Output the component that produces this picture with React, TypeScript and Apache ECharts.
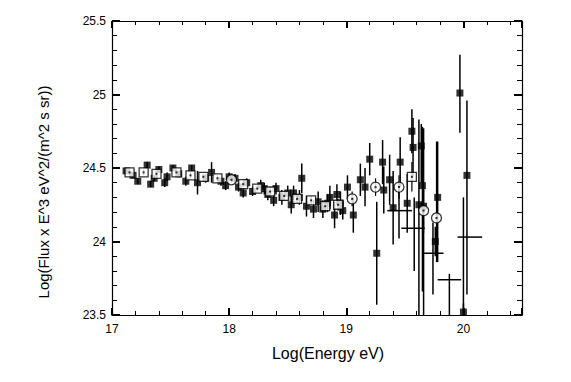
import React, { useEffect, useRef } from "react";
import * as echarts from "echarts";

// Filled squares with vertical error bars
const filledX = [17.12, 17.18, 17.22, 17.30, 17.33, 17.36, 17.40, 17.45, 17.47, 17.52, 17.57, 17.63, 17.68, 17.73, 17.80, 17.85, 17.93, 17.97, 18.00, 18.05, 18.08, 18.12, 18.15, 18.20, 18.27, 18.30, 18.33, 18.38, 18.40, 18.45, 18.50, 18.53, 18.55, 18.60, 18.62, 18.66, 18.72, 18.76, 18.80, 18.84, 18.86, 18.90, 18.92, 18.95, 18.97, 19.01, 19.06, 19.12, 19.16, 19.20, 19.26, 19.31, 19.32, 19.37, 19.40, 19.46, 19.52, 19.56, 19.57, 19.62, 19.64, 19.65, 19.66, 19.76, 19.78, 19.97, 20.00, 20.03];
const filledY = [24.48, 24.45, 24.41, 24.52, 24.39, 24.43, 24.49, 24.40, 24.44, 24.50, 24.46, 24.41, 24.50, 24.40, 24.43, 24.47, 24.41, 24.38, 24.44, 24.43, 24.37, 24.33, 24.40, 24.34, 24.38, 24.36, 24.32, 24.28, 24.36, 24.30, 24.33, 24.25, 24.33, 24.30, 24.43, 24.24, 24.22, 24.27, 24.22, 24.26, 24.30, 24.18, 24.32, 24.26, 24.21, 24.37, 24.18, 24.42, 24.37, 24.56, 23.92, 24.54, 24.35, 24.42, 24.23, 24.54, 24.26, 24.75, 24.64, 24.25, 24.65, 24.38, 24.24, 24.00, 24.30, 25.01, 23.52, 24.45];
const filledLo = [24.46, 24.43, 24.39, 24.50, 24.37, 24.41, 24.47, 24.37, 24.41, 24.48, 24.44, 24.38, 24.48, 24.32, 24.40, 24.40, 24.38, 24.35, 24.41, 24.40, 24.34, 24.30, 24.37, 24.31, 24.34, 24.32, 24.28, 24.24, 24.32, 24.25, 24.28, 24.19, 24.28, 24.25, 24.33, 24.17, 24.16, 24.20, 24.16, 24.20, 24.22, 24.09, 24.25, 24.18, 24.15, 24.29, 24.06, 24.31, 24.24, 24.45, 23.57, 24.39, 24.19, 24.25, 23.98, 24.37, 24.06, 24.60, 24.44, 23.45, 24.40, 23.66, 23.45, 23.90, 23.86, 24.74, 23.40, 23.64];
const filledHi = [24.50, 24.47, 24.43, 24.54, 24.41, 24.45, 24.51, 24.43, 24.47, 24.52, 24.48, 24.44, 24.52, 24.48, 24.46, 24.54, 24.44, 24.41, 24.47, 24.46, 24.40, 24.36, 24.43, 24.37, 24.42, 24.40, 24.36, 24.32, 24.40, 24.35, 24.38, 24.31, 24.38, 24.35, 24.53, 24.31, 24.28, 24.34, 24.28, 24.32, 24.38, 24.27, 24.39, 24.34, 24.27, 24.45, 24.30, 24.53, 24.50, 24.67, 24.27, 24.69, 24.51, 24.59, 24.48, 24.71, 24.46, 24.90, 24.84, 24.83, 24.80, 24.78, 24.77, 24.10, 24.68, 25.27, 23.58, 24.96];

// Open squares (lower energies)
const sqX = [17.15, 17.27, 17.38, 17.55, 17.67, 17.78, 17.90, 18.12, 18.24, 18.35, 18.47, 18.58, 18.70, 18.82, 18.93, 19.56];
const sqY = [24.47, 24.47, 24.46, 24.47, 24.45, 24.44, 24.43, 24.39, 24.36, 24.34, 24.31, 24.29, 24.28, 24.24, 24.25, 24.44];
const sqErr = [0.02, 0.02, 0.02, 0.02, 0.02, 0.02, 0.02, 0.02, 0.02, 0.03, 0.03, 0.03, 0.03, 0.04, 0.04, 0.10];

// Open circles
const ocX = [18.02, 19.05, 19.25, 19.45, 19.66, 19.77];
const ocY = [24.42, 24.29, 24.37, 24.37, 24.21, 24.16];
const ocLo = [24.40, 24.24, 24.31, 24.29, 24.06, 23.86];
const ocHi = [24.44, 24.34, 24.43, 24.45, 24.36, 24.68];

// Binned points with horizontal and vertical bars
const crX = [19.45, 19.58, 19.74, 19.88, 20.00];
const crY = [24.21, 24.09, 23.92, 23.74, 24.03];
const crXLo = [19.35, 19.47, 19.66, 19.78, 19.95];
const crXHi = [19.56, 19.67, 19.83, 19.98, 20.16];
const crYLo = [24.02, 23.80, 23.64, 23.30, 23.51];
const crYHi = [24.40, 24.30, 24.13, 23.78, 24.30];

const xName = "Log(Energy eV)";
const yName = "Log(Flux x E^3 eV^2/(m^2 s sr))";

const FONT = "Liberation Sans, Arial, sans-serif";

function errBar(lineWidth: number) {
  return (params: any, api: any) => {
    const x = api.value(0);
    const p1 = api.coord([x, api.value(1)]);
    const p2 = api.coord([x, api.value(2)]);
    return {
      type: "line",
      shape: { x1: p1[0], y1: p1[1], x2: p2[0], y2: p2[1] },
      style: { stroke: "#000", lineWidth },
    };
  };
}

export default function App() {
  const ref = useRef<HTMLDivElement>(null);
  useEffect(() => {
    if (!ref.current) return;
    const chart = echarts.init(ref.current, undefined, { renderer: "svg" });
    const isInt = (v: number) => Math.abs(v - Math.round(v)) < 1e-6;
    const isHalf = (v: number) => Math.abs(v * 2 - Math.round(v * 2)) < 1e-6;
    const base = { min: 17, max: 20.5, type: "value" as const, splitLine: { show: false }, scale: true };
    const ybase = { min: 23.5, max: 25.5, type: "value" as const, splitLine: { show: false }, scale: true };
    const line = { show: true, lineStyle: { color: "#000", width: 1.2 } };
    chart.setOption({
      animation: false,
      backgroundColor: "#fff",
      grid: { left: 112, top: 21, right: 49, bottom: 67, containLabel: false },
      graphic: [
        {
          type: "text", x: 328, y: 353,
          style: { text: xName, fontSize: 16, fontFamily: FONT, fill: "#000", textAlign: "center", textVerticalAlign: "middle" },
        },
        {
          type: "text", x: 43, y: 192, rotation: Math.PI / 2,
          style: { text: yName, fontSize: 15, fontFamily: FONT, fill: "#000", textAlign: "center", textVerticalAlign: "middle" },
        },
      ],
      xAxis: [
        {
          ...base, position: "bottom", interval: 0.2, axisLine: line,
          axisTick: { inside: true, length: 4, lineStyle: { color: "#000", width: 1 } },
          axisLabel: { color: "#000", fontSize: 12, fontFamily: FONT, margin: 8, showMaxLabel: false,
            formatter: (v: number) => (isInt(v) ? String(Math.round(v)) : "") },
        },
        { ...base, position: "bottom", interval: 1, axisLine: { show: false },
          axisTick: { inside: true, length: 7, lineStyle: { color: "#000", width: 2 } }, axisLabel: { show: false } },
        { ...base, position: "top", interval: 0.2, axisLine: line,
          axisTick: { inside: true, length: 4, lineStyle: { color: "#000", width: 1 } }, axisLabel: { show: false } },
        { ...base, position: "top", interval: 1, axisLine: { show: false },
          axisTick: { inside: true, length: 7, lineStyle: { color: "#000", width: 2 } }, axisLabel: { show: false } },
      ],
      yAxis: [
        {
          ...ybase, position: "left", interval: 0.1, axisLine: line,
          axisTick: { inside: true, length: 5, lineStyle: { color: "#000", width: 1 } },
          axisLabel: { color: "#000", fontSize: 12, fontFamily: FONT, margin: 6,
            formatter: (v: number) => (isHalf(v) ? String(Math.round(v * 2) / 2) : "") },
        },
        { ...ybase, position: "left", interval: 0.5, axisLine: { show: false },
          axisTick: { inside: true, length: 8, lineStyle: { color: "#000", width: 2 } }, axisLabel: { show: false } },
        { ...ybase, position: "right", interval: 0.1, axisLine: line,
          axisTick: { inside: true, length: 5, lineStyle: { color: "#000", width: 1 } }, axisLabel: { show: false } },
        { ...ybase, position: "right", interval: 0.5, axisLine: { show: false },
          axisTick: { inside: true, length: 8, lineStyle: { color: "#000", width: 2 } }, axisLabel: { show: false } },
      ],
      series: [
        {
          type: "custom", clip: true, renderItem: errBar(1.5),
          data: filledX.map((x, i) => [x, filledLo[i], filledHi[i]]),
        },
        {
          type: "custom", clip: true, renderItem: errBar(1.2),
          data: sqX.map((x, i) => [x, sqY[i] - sqErr[i], sqY[i] + sqErr[i]]),
        },
        {
          type: "custom", clip: true, renderItem: errBar(1.2),
          data: ocX.map((x, i) => [x, ocLo[i], ocHi[i]]),
        },
        {
          type: "custom", clip: true,
          renderItem: (params: any, api: any) => {
            const x = api.value(0), y = api.value(1);
            const a = api.coord([api.value(2), y]);
            const b = api.coord([api.value(3), y]);
            const c = api.coord([x, api.value(4)]);
            const d = api.coord([x, api.value(5)]);
            return {
              type: "group",
              children: [
                { type: "line", shape: { x1: a[0], y1: a[1], x2: b[0], y2: b[1] }, style: { stroke: "#000", lineWidth: 1.5 } },
                { type: "line", shape: { x1: c[0], y1: c[1], x2: d[0], y2: d[1] }, style: { stroke: "#000", lineWidth: 1.5 } },
              ],
            };
          },
          data: crX.map((x, i) => [x, crY[i], crXLo[i], crXHi[i], crYLo[i], crYHi[i]]),
        },
        {
          type: "scatter", clip: true, symbol: "rect", symbolSize: 7,
          itemStyle: { color: "#000" },
          data: filledX.map((x, i) => [x, filledY[i]]),
        },
        {
          type: "scatter", clip: true, symbol: "rect", symbolSize: 9,
          itemStyle: { color: "#fff", borderColor: "#000", borderWidth: 1.3 },
          data: sqX.map((x, i) => [x, sqY[i]]),
        },
        {
          type: "scatter", clip: true, symbol: "circle", symbolSize: 10,
          itemStyle: { color: "#fff", borderColor: "#000", borderWidth: 1.3 },
          data: ocX.map((x, i) => [x, ocY[i]]),
        },
        {
          type: "scatter", clip: true, symbol: "rect", symbolSize: 2,
          itemStyle: { color: "#000" },
          data: sqX.map((x, i) => [x, sqY[i]]).concat(ocX.map((x, i) => [x, ocY[i]])),
        },
      ],
    });
    return () => chart.dispose();
  }, []);
  return <div ref={ref} style={{ width: 571, height: 382, position: "absolute", left: 0, top: 0 }} />;
}
